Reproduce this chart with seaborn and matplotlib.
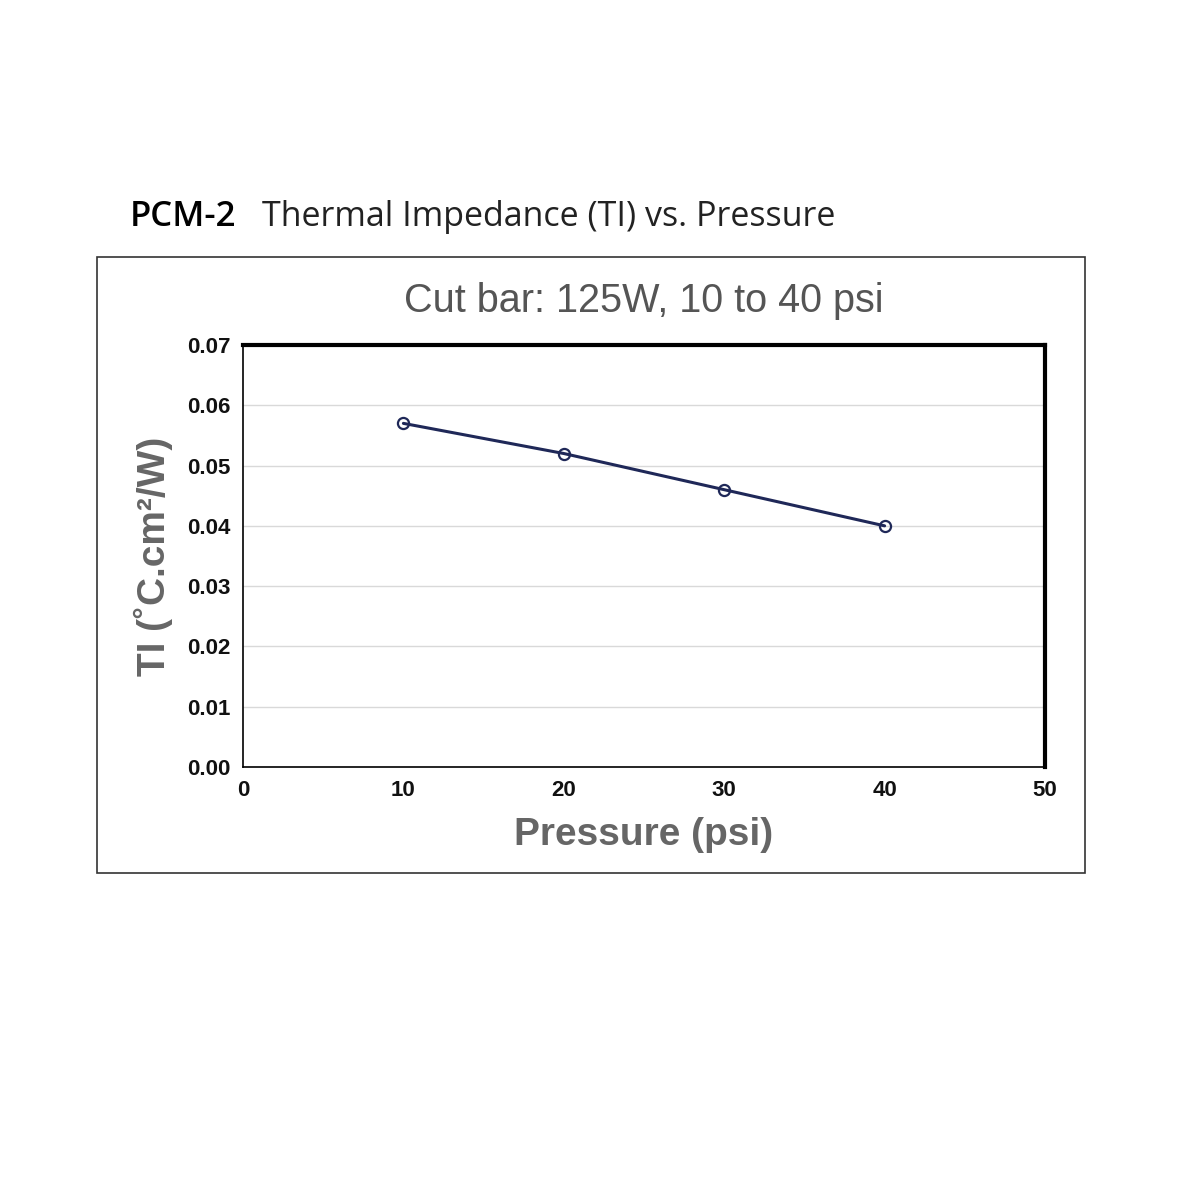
import matplotlib
matplotlib.use("Agg")
from matplotlib import pyplot as plt
from matplotlib.patches import Rectangle
import pandas as pd
import seaborn as sns

pressure = [10, 20, 30, 40]
impedance = [0.057, 0.052, 0.046, 0.040]
x_ticks = [0, 10, 20, 30, 40, 50]
y_ticks = [0.00, 0.01, 0.02, 0.03, 0.04, 0.05, 0.06, 0.07]

sns.set_style("white")
plt.rcParams['font.family'] = ['Liberation Sans', 'DejaVu Sans']

df = pd.DataFrame({"Pressure": pressure, "TI": impedance})

fig = plt.figure(figsize=(12, 12), dpi=100)
fig.patches.append(Rectangle((97/1200, 1-873/1200), 988/1200, 616/1200,
                             transform=fig.transFigure, fill=False,
                             edgecolor='#333333', linewidth=1.2))
fig.text(130/1200, 1-217/1200, "PCM-2", fontsize=25, fontweight='semibold',
         va='center', color='black', family=['Open Sans', 'DejaVu Sans'])
fig.text(262/1200, 1-217/1200, "Thermal Impedance (TI) vs. Pressure", fontsize=24.5,
         va='center', color='#222222', fontweight='medium', family=['Open Sans', 'DejaVu Sans'])

ax = fig.add_axes([243/1200, 1-767/1200, 802/1200, 422/1200])
sns.lineplot(data=df, x="Pressure", y="TI", ax=ax, color='#1f2858', linewidth=2.2,
             marker='o', markersize=8, markerfacecolor='none',
             markeredgecolor='#1f2858', markeredgewidth=1.6)
ax.set_xlim(0, 50)
ax.set_ylim(0, 0.07)
ax.set_xticks(x_ticks)
ax.set_yticks(y_ticks)
ax.set_yticklabels([f"{v:.2f}" for v in y_ticks])
ax.tick_params(labelsize=16, length=0, pad=9, labelcolor='#111111')
for lbl in ax.get_xticklabels() + ax.get_yticklabels():
    lbl.set_fontweight('semibold')
ax.yaxis.grid(True, color='#d9d9d9', linewidth=1)
for s in ['top', 'right']:
    ax.spines[s].set_linewidth(3)
    ax.spines[s].set_color('black')
for s in ['left', 'bottom']:
    ax.spines[s].set_linewidth(1.2)
    ax.spines[s].set_color('black')
ax.set_xlabel("Pressure (psi)", fontsize=28, fontweight='bold', color='#666666', labelpad=12)
ax.set_ylabel("TI (˚C.cm²/W)", fontsize=28, fontweight='bold', color='#666666', labelpad=10)
ax.set_title("Cut bar: 125W, 10 to 40 psi", fontsize=28.5, color='#555555', pad=24)

fig.savefig("out.png", dpi=100)
